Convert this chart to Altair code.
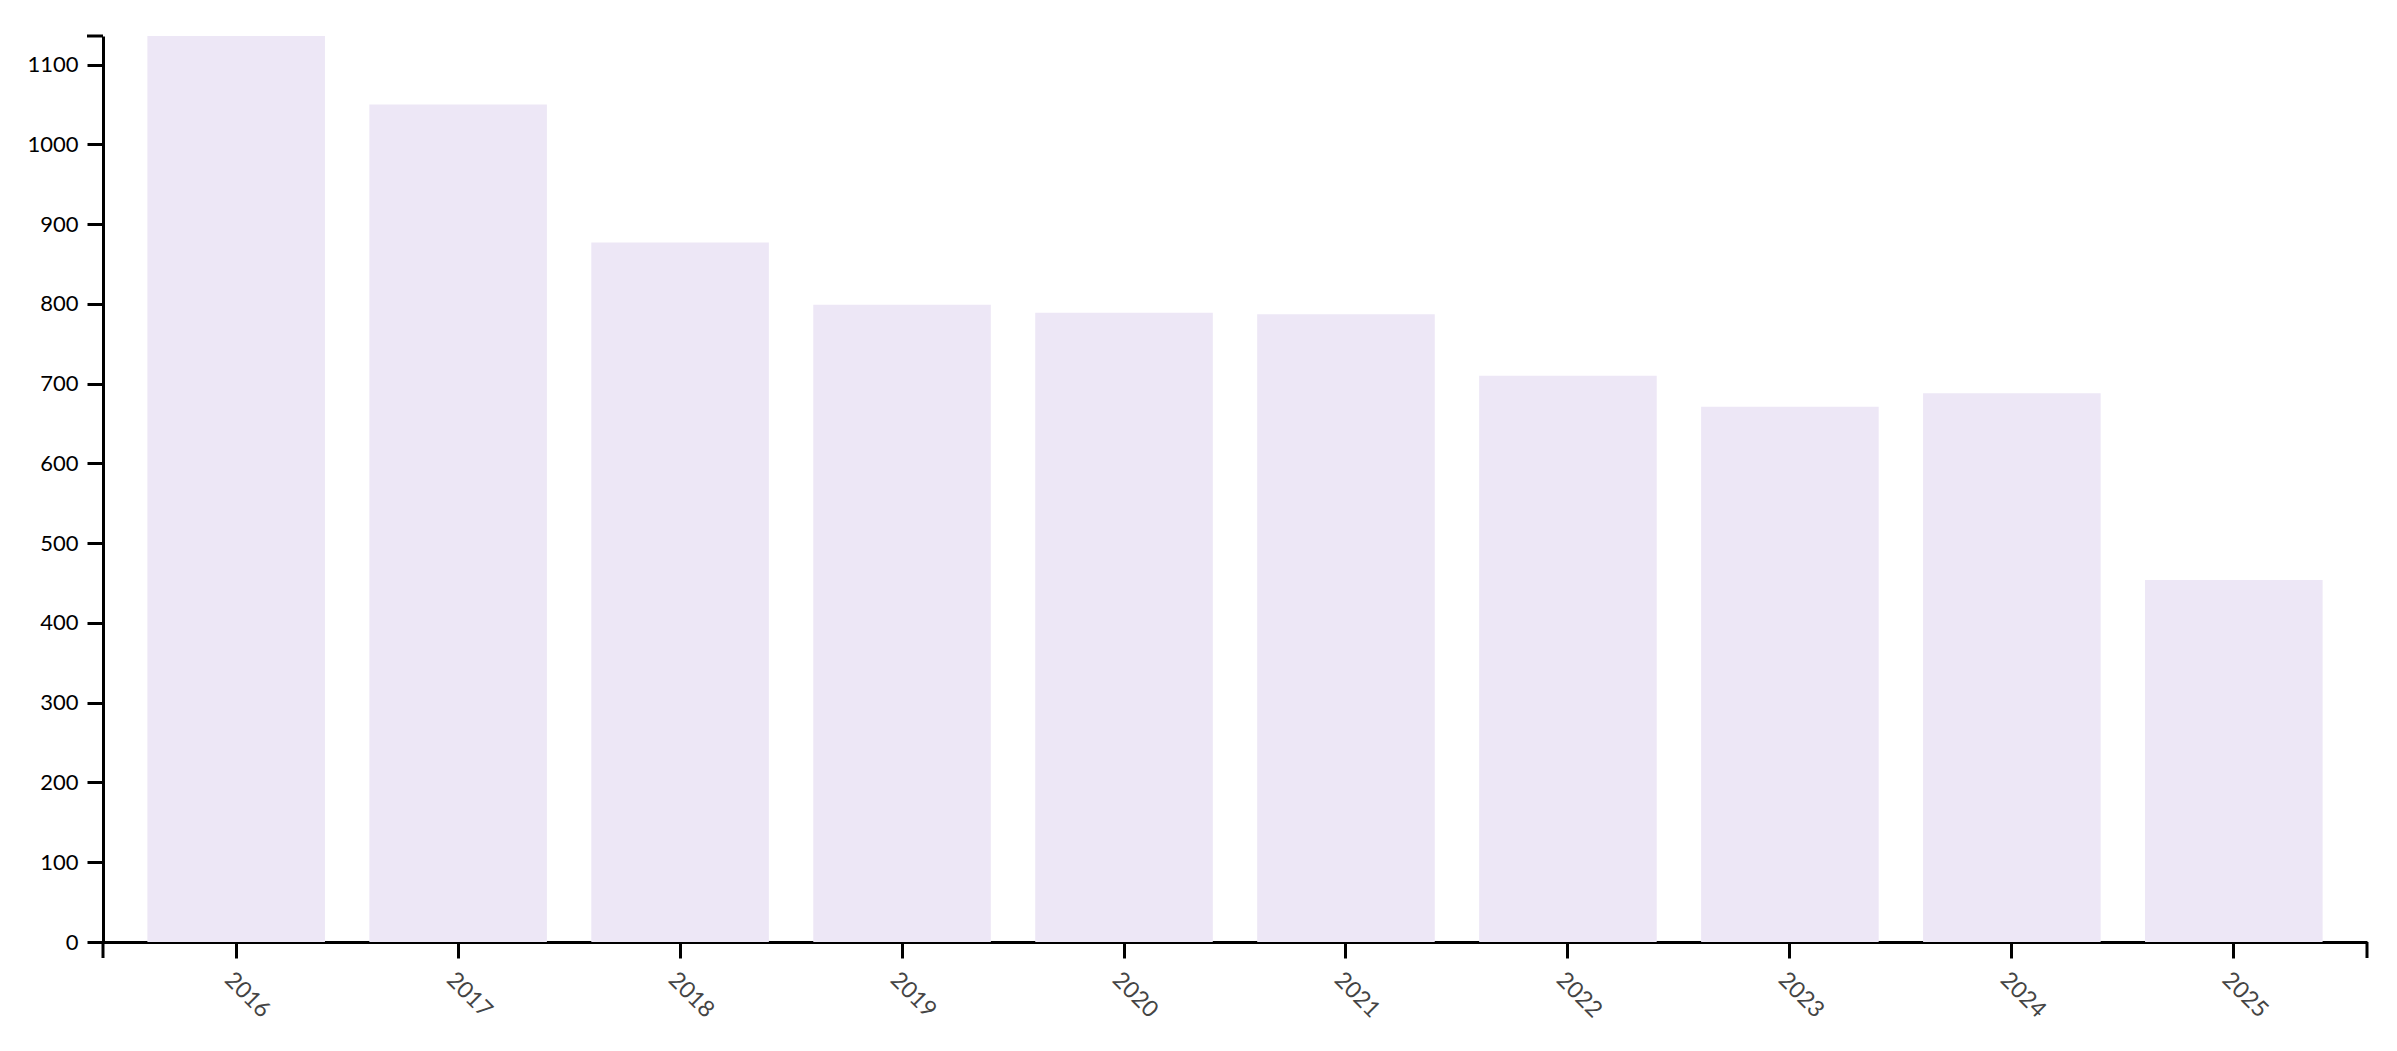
import altair as alt
import pandas as pd

years = ["2016", "2017", "2018", "2019", "2020", "2021", "2022", "2023", "2024", "2025"]
counts = [1136, 1050, 877, 799, 789, 787, 710, 671, 688, 454]
y_ticks = [0, 100, 200, 300, 400, 500, 600, 700, 800, 900, 1000, 1100]

W, H = 2264, 906
df = pd.DataFrame({"year": years, "count": counts})

bars = alt.Chart(df).mark_bar(color="#EDE7F6").encode(
    x=alt.X("year:N", sort=years,
            scale=alt.Scale(paddingInner=0.2, paddingOuter=0.2),
            axis=alt.Axis(title=None, labelAngle=45, labelAlign="left", labelBaseline="top",
                          labelColor="#444444", labelFontSize=23, labelFont="Lato",
                          tickSize=16, tickWidth=3, tickColor="black",
                          domainColor="black", domainWidth=3, labelPadding=10)),
    y=alt.Y("count:Q", scale=alt.Scale(domain=[0, max(counts)], nice=False),
            axis=alt.Axis(title=None, values=y_ticks, format="d", labelColor="black",
                          labelFontSize=22, labelFont="Lato", tickSize=16, tickWidth=3,
                          tickColor="black", domainColor="black", domainWidth=3,
                          labelPadding=9, grid=False)),
)

edge = pd.DataFrame({"k": [0]})
left_tick = alt.Chart(edge).mark_rule(color="black", strokeWidth=3).encode(
    x=alt.value(0), y=alt.value(H), y2=alt.value(H + 16))
right_tick = alt.Chart(edge).mark_rule(color="black", strokeWidth=3).encode(
    x=alt.value(W), y=alt.value(H), y2=alt.value(H + 16))
top_tick = alt.Chart(edge).mark_rule(color="black", strokeWidth=3).encode(
    x=alt.value(-16), x2=alt.value(0), y=alt.value(0))

chart = alt.layer(bars, left_tick, right_tick, top_tick).properties(
    width=W, height=H,
    autosize=alt.AutoSizeParams(type="none"),
    padding={"left": 95, "top": 28, "right": 20, "bottom": 90},
    background="white",
).configure(font="Lato").configure_view(stroke=None, strokeWidth=0)

chart.save("out.html", embed_options={"renderer": "svg", "actions": False})
